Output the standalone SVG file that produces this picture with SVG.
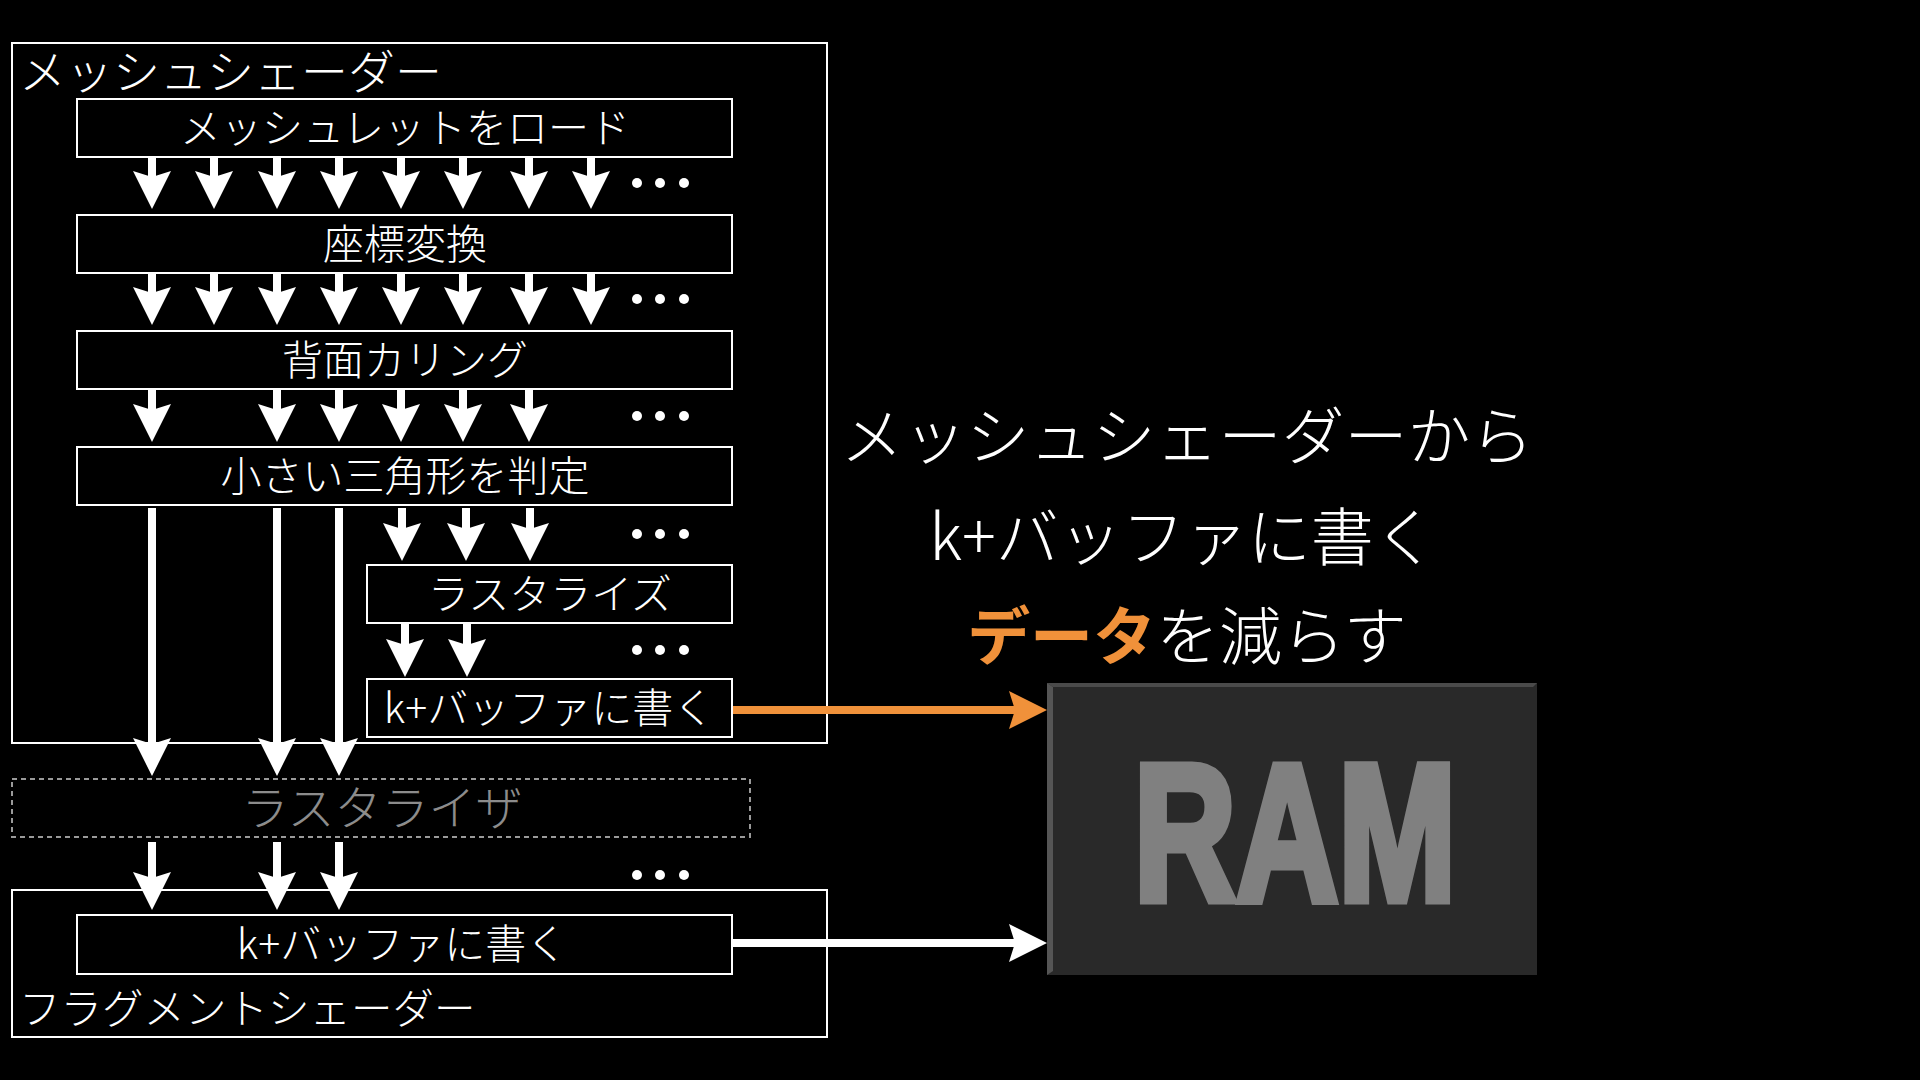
<svg xmlns="http://www.w3.org/2000/svg" width="1920" height="1080" viewBox="0 0 1920 1080">
<style>
.bg{fill:#000}
.box{fill:none;stroke:#fff;stroke-width:2}
.dash{fill:none;stroke:#9a9a9a;stroke-width:2;stroke-dasharray:5 4}
.t{font-family:"Noto Sans CJK JP","Noto Sans",sans-serif;font-weight:300;fill:#fff}
.lbl{font-size:41px;text-anchor:middle}
.grp{font-size:47px}
.big{font-size:63px;text-anchor:middle}
.arr{stroke:#fff;stroke-width:8;fill:none;marker-end:url(#ah)}
.arro{stroke:#f0913a;stroke-width:8;fill:none;marker-end:url(#aho)}
.dot{fill:#fff}
</style>
<defs>
<marker id="ah" viewBox="0 -19 38 38" markerWidth="38" markerHeight="38" refX="6" refY="0" orient="auto" markerUnits="userSpaceOnUse"><path d="M0,-19 L38,0 L0,19 L6,0 z" fill="#fff"/></marker>
<marker id="aho" viewBox="0 -19 38 38" markerWidth="38" markerHeight="38" refX="6" refY="0" orient="auto" markerUnits="userSpaceOnUse"><path d="M0,-19 L38,0 L0,19 L6,0 z" fill="#f0913a"/></marker>
<g id="dots"><circle class="dot" cx="0" cy="0" r="5"/><circle class="dot" cx="23" cy="0" r="5"/><circle class="dot" cx="47" cy="0" r="5"/></g>
</defs>
<rect class="bg" x="0" y="0" width="1920" height="1080"/>

<g id="mesh-shader">
<rect class="box" x="12" y="43" width="815" height="700"/>
<text class="t grp" x="19" y="89">メッシュシェーダー</text>
</g>
<g id="load-meshlet"><rect class="box" x="77" y="99" width="655" height="58"/><text class="t lbl" x="405" y="142.5">メッシュレットをロード</text></g>
<g id="transform"><rect class="box" x="77" y="215" width="655" height="58"/><text class="t lbl" x="405" y="258.5">座標変換</text></g>
<g id="culling"><rect class="box" x="77" y="331" width="655" height="58"/><text class="t lbl" x="405" y="374.5">背面カリング</text></g>
<g id="small-tri"><rect class="box" x="77" y="447" width="655" height="58"/><text class="t lbl" x="405" y="490.5">小さい三角形を判定</text></g>
<g id="rasterize"><rect class="box" x="367" y="565" width="365" height="58"/><text class="t lbl" x="550" y="608.5">ラスタライズ</text></g>
<g id="write-kbuf-mesh"><rect class="box" x="367" y="679" width="365" height="58"/><text class="t lbl" x="549" y="722.5">k+バッファに書く</text></g>

<g id="rasterizer">
<rect class="dash" x="12" y="779" width="738" height="58"/>
<text class="t grp" x="382" y="825" text-anchor="middle" style="fill:#8c8c8c">ラスタライザ</text>
</g>

<g id="fragment-shader">
<rect class="box" x="12" y="890" width="815" height="147"/>
<text class="t" x="19" y="1024" style="font-size:41.5px">フラグメントシェーダー</text>
</g>
<g id="write-kbuf-frag"><rect class="box" x="77" y="915" width="655" height="59"/><text class="t lbl" x="402" y="959">k+バッファに書く</text></g>

<g id="ram">
<rect x="1047" y="683" width="490" height="292" fill="#292929"/>
<polygon points="1047,683 1537,683 1533,687 1053,687" fill="#4a4a4a"/>
<polygon points="1047,683 1053,687 1053,971 1047,975" fill="#555"/>
<text x="0" y="0" transform="translate(1295,899.5) scale(0.73,1)" text-anchor="middle" style="font-family:'Liberation Sans',Arial,sans-serif;font-weight:bold;font-size:194px;fill:#808080;stroke:#808080;stroke-width:9;stroke-linejoin:miter">RAM</text>
</g>

<g id="caption">
<text class="t big" x="1187" y="459">メッシュシェーダーから</text>
<text class="t big" x="1183" y="560">k+バッファに書く</text>
<text class="t big" x="1187" y="659"><tspan style="fill:#f0913a;font-weight:bold">データ</tspan>を減らす</text>
</g>

<g id="connectors">
<line class="arr" x1="152" y1="157" x2="152" y2="177"/>
<line class="arr" x1="214" y1="157" x2="214" y2="177"/>
<line class="arr" x1="277" y1="157" x2="277" y2="177"/>
<line class="arr" x1="339" y1="157" x2="339" y2="177"/>
<line class="arr" x1="401" y1="157" x2="401" y2="177"/>
<line class="arr" x1="463" y1="157" x2="463" y2="177"/>
<line class="arr" x1="529" y1="157" x2="529" y2="177"/>
<line class="arr" x1="591" y1="157" x2="591" y2="177"/>

<line class="arr" x1="152" y1="273" x2="152" y2="293"/>
<line class="arr" x1="214" y1="273" x2="214" y2="293"/>
<line class="arr" x1="277" y1="273" x2="277" y2="293"/>
<line class="arr" x1="339" y1="273" x2="339" y2="293"/>
<line class="arr" x1="401" y1="273" x2="401" y2="293"/>
<line class="arr" x1="463" y1="273" x2="463" y2="293"/>
<line class="arr" x1="529" y1="273" x2="529" y2="293"/>
<line class="arr" x1="591" y1="273" x2="591" y2="293"/>

<line class="arr" x1="152" y1="389" x2="152" y2="410"/>
<line class="arr" x1="277" y1="389" x2="277" y2="410"/>
<line class="arr" x1="339" y1="389" x2="339" y2="410"/>
<line class="arr" x1="401" y1="389" x2="401" y2="410"/>
<line class="arr" x1="463" y1="389" x2="463" y2="410"/>
<line class="arr" x1="529" y1="389" x2="529" y2="410"/>

<line class="arr" x1="402" y1="508" x2="402" y2="529"/>
<line class="arr" x1="466" y1="508" x2="466" y2="529"/>
<line class="arr" x1="530" y1="508" x2="530" y2="529"/>

<line class="arr" x1="152" y1="508" x2="152" y2="744"/>
<line class="arr" x1="277" y1="508" x2="277" y2="744"/>
<line class="arr" x1="339" y1="508" x2="339" y2="744"/>

<line class="arr" x1="405" y1="623" x2="405" y2="645"/>
<line class="arr" x1="467" y1="623" x2="467" y2="645"/>

<line class="arr" x1="152" y1="842" x2="152" y2="878"/>
<line class="arr" x1="277" y1="842" x2="277" y2="878"/>
<line class="arr" x1="339" y1="842" x2="339" y2="878"/>

<line class="arro" x1="733" y1="710" x2="1015" y2="710"/>
<line class="arr" x1="733" y1="943" x2="1015" y2="943"/>

<use href="#dots" x="637" y="183"/>
<use href="#dots" x="637" y="299"/>
<use href="#dots" x="637" y="416"/>
<use href="#dots" x="637" y="534"/>
<use href="#dots" x="637" y="650"/>
<use href="#dots" x="637" y="875"/>
</g>
</svg>
